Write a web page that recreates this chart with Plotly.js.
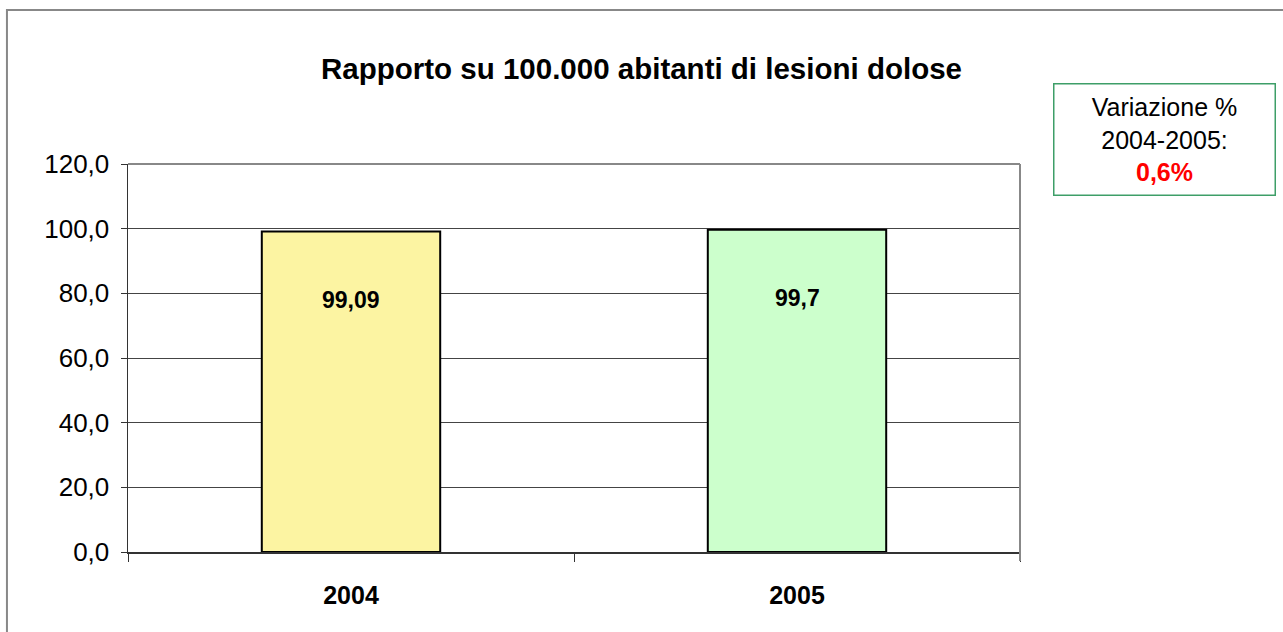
<!DOCTYPE html>
<html>
<head>
<meta charset="utf-8">
<script src="https://cdn.plot.ly/plotly-3.0.1.min.js"></script>
<style>html,body{margin:0;padding:0;background:#fff;}#chart{width:1283px;height:632px;}</style>
</head>
<body>
<div id="chart"></div>
<script>
const categories = ["2004", "2005"];
const values = [99.09, 99.7];
const valueLabels = ["99,09", "99,7"];
const barColors = ["#FCF4A2", "#CCFFCC"];
const titleText = "Rapporto su 100.000 abitanti di lesioni dolose";
const boxLines = ["Variazione %", "2004-2005:"];
const boxValue = "0,6%";
const yTicks = [0, 20, 40, 60, 80, 100, 120];

const FONT = "Liberation Sans, Arial, sans-serif";

const trace = {
  type: "bar",
  x: categories,
  y: values,
  width: 0.4,
  marker: {color: barColors, line: {color: "#000", width: 2}},
  hoverinfo: "none"
};

const annotations = categories.map((c, i) => ({
  x: i, y: values[i] - 21, xref: "x", yref: "y",
  text: "<b>" + valueLabels[i] + "</b>", showarrow: false,
  font: {family: FONT, size: 23, color: "#000"}
}));
annotations.push({
  xref: "paper", yref: "paper", x: 1.037, y: 1.2088, xanchor: "left", yanchor: "top",
  text: boxLines.join("<br>") + "<br><b><span style='color:#FF0000'>" + boxValue + "</span></b>",
  showarrow: false, align: "center",
  font: {family: FONT, size: 25, color: "#000"},
  bordercolor: "#3E9E68", borderwidth: 1.5, borderpad: 4, width: 212, height: 102,
  bgcolor: "#fff"
});

const layout = {
  width: 1283, height: 632,
  margin: {l: 128, r: 263, t: 164, b: 80},
  paper_bgcolor: "#fff", plot_bgcolor: "#fff",
  separators: ",.",
  showlegend: false,
  title: {text: "<b>" + titleText + "</b>", x: 0.5, xref: "container", xanchor: "center",
    y: 0.892, yref: "container", yanchor: "middle",
    font: {family: FONT, size: 29.5, color: "#000"}},
  xaxis: {
    type: "category", range: [-0.5, 1.5], tickson: "boundaries", ticks: "outside", ticklen: 8, tickcolor: "#333",
    showline: true, linecolor: "#333", linewidth: 1.5, showgrid: false,
    tickfont: {family: FONT, size: 25, color: "#000", weight: "bold"},
    ticklabelstandoff: 20
  },
  yaxis: {
    range: [0, 120], tickvals: yTicks, tickformat: ".1f", ticks: "outside", ticklen: 6, tickcolor: "#333",
    showline: true, linecolor: "#333", linewidth: 1.5,
    showgrid: true, gridcolor: "#444", gridwidth: 1, zeroline: false,
    tickfont: {family: FONT, size: 26, color: "#000"},
    ticklabelstandoff: 6
  },
  shapes: [
    {type: "line", xref: "paper", yref: "paper", x0: 0, x1: 1, y0: 1, y1: 1, line: {color: "#888", width: 2}},
    {type: "line", xref: "paper", yref: "paper", x0: 1, x1: 1, y0: -0.023, y1: 1, line: {color: "#888", width: 2}},
    {type: "rect", xref: "paper", yref: "paper", x0: -0.1357, x1: 2, y0: -1, y1: 1.397, line: {color: "#888", width: 2}}
  ],
  annotations: annotations
};

Plotly.newPlot("chart", [trace], layout, {displayModeBar: false, staticPlot: true});
</script>
</body>
</html>
